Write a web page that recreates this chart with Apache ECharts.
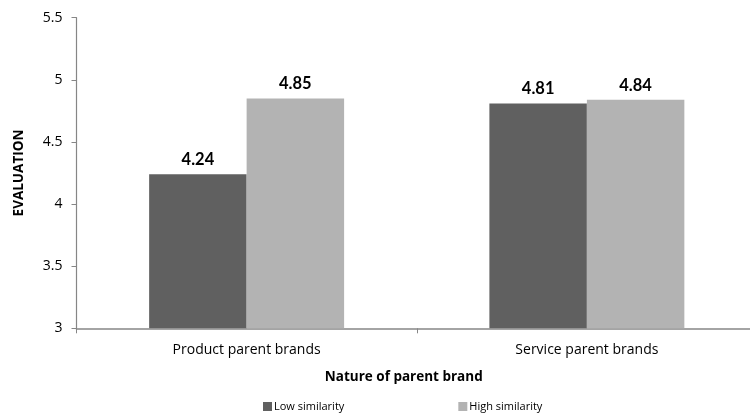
<!DOCTYPE html>
<html><head><meta charset="utf-8">
<script src="https://cdn.jsdelivr.net/npm/echarts@6/dist/echarts.min.js"></script>
<style>html,body{margin:0;padding:0;background:#fff;overflow:hidden}#c{width:757px;height:419px}</style>
</head><body><div id="c"></div>
<script>
const categories = ['Product parent brands', 'Service parent brands'];
const lowSimilarity = [4.24, 4.81];
const highSimilarity = [4.85, 4.84];
const seriesNames = ['Low similarity', 'High similarity'];
const FONT = '"Open Sans", Lato, sans-serif';
const BFONT = 'Lato, "Open Sans", sans-serif';
const chart = echarts.init(document.getElementById('c'));
chart.setOption({
  animation: false,
  textStyle: {fontFamily: FONT},
  grid: {left: 76.5, right: 0, top: 17.7, bottom: 90.7, containLabel: false},
  legend: {
    top: 396, left: 258, itemGap: 114, itemWidth: 9, itemHeight: 9, icon: 'rect',
    textStyle: {fontSize: 11, color: '#000', fontFamily: FONT, padding: [0,0,0,-3]},
    data: seriesNames
  },
  xAxis: {
    type: 'category', data: categories,
    name: 'Nature of parent brand', nameLocation: 'middle', nameGap: 42,
    nameTextStyle: {fontSize: 13.5, fontWeight: 'bold', color: '#000', fontFamily: FONT, padding: [0, 26, 0, 0]},
    axisLine: {lineStyle: {color: '#868686', width: 1.5}},
    axisTick: {show: true, length: 5, lineStyle: {color: '#868686'}},
    axisLabel: {fontSize: 14, color: '#000', margin: 15, fontFamily: FONT}
  },
  yAxis: {
    type: 'value', min: 3, max: 5.5, interval: 0.5,
    name: 'EVALUATION', nameLocation: 'middle', nameGap: 50,
    nameTextStyle: {fontSize: 13.5, fontWeight: 'bold', color: '#000', fontFamily: FONT},
    splitLine: {show: false},
    axisLine: {show: true, lineStyle: {color: '#868686', width: 1.2}},
    axisTick: {show: true, length: 5, lineStyle: {color: '#868686'}},
    axisLabel: {fontSize: 14, color: '#000', margin: 14, fontFamily: FONT}
  },
  series: [
    {name: seriesNames[0], type: 'bar', data: lowSimilarity, barGap: '0%', barCategoryGap: '42.7%',
     itemStyle: {color: '#606060'},
     label: {show: true, position: 'top', distance: 6, fontSize: 16.5, fontWeight: 'bold', color: '#000', fontFamily: BFONT, formatter: p => p.value.toFixed(2)}},
    {name: seriesNames[1], type: 'bar', data: highSimilarity, barGap: '0%', barCategoryGap: '42.7%',
     itemStyle: {color: '#b3b3b3'},
     label: {show: true, position: 'top', distance: 6, fontSize: 16.5, fontWeight: 'bold', color: '#000', fontFamily: BFONT, formatter: p => p.value.toFixed(2)}}
  ]
});
</script></body></html>
